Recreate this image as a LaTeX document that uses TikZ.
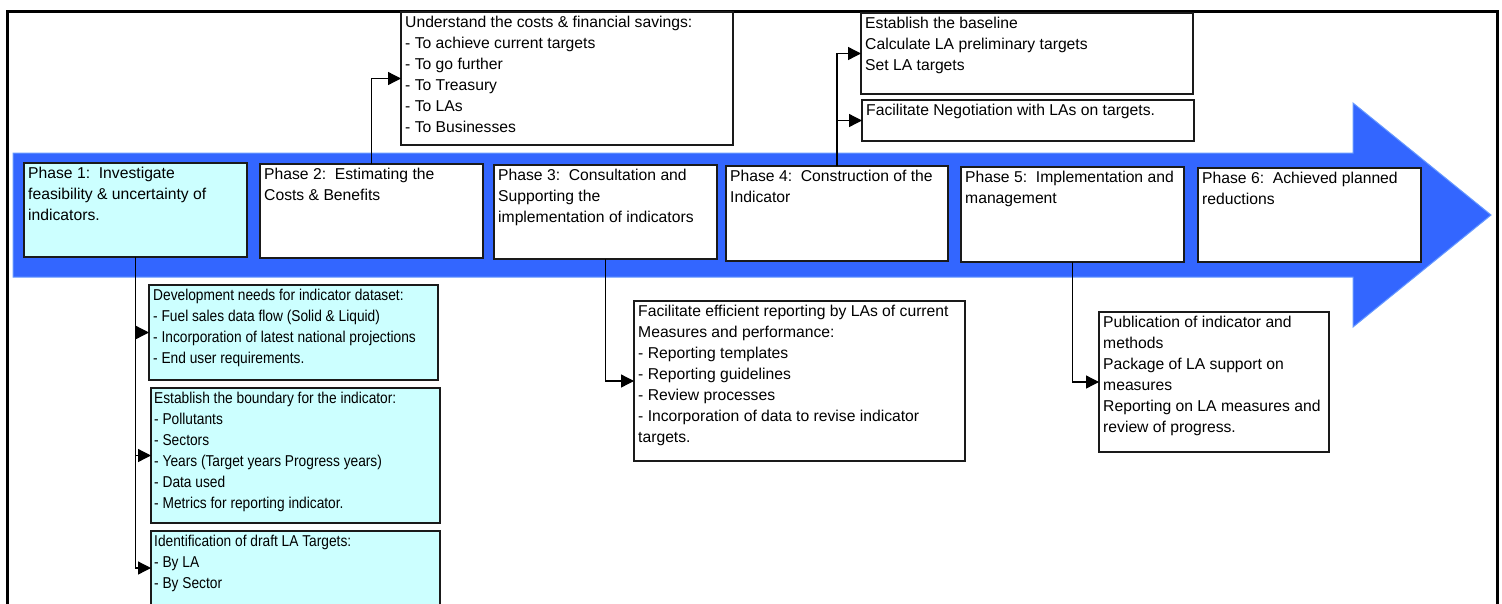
\documentclass[tikz,border=0pt]{standalone}
\usepackage{fontspec}
\setmainfont{Liberation Sans}
\newfontfamily\condfont[FakeStretch=0.875]{Liberation Sans}
\usetikzlibrary{arrows.meta}
\definecolor{arrowblue}{HTML}{3366FF}
\definecolor{arrowedge}{HTML}{6699FF}
\definecolor{lightcyan}{HTML}{CCFFFF}
\definecolor{boxline}{HTML}{1A1A1A}
\begin{document}
\begin{tikzpicture}[x=1pt,y=-1pt,
  box/.style={draw=boxline,line width=1.2pt,rectangle,inner sep=0pt,outer sep=0pt,anchor=north west},
  cyanbox/.style={box,fill=lightcyan},
  whitebox/.style={box,fill=white},
  txt/.style={anchor=north west,inner sep=0pt,align=left,font=\fontsize{15.7}{21}\selectfont},
  ctxt/.style={anchor=north west,inner sep=0pt,align=left,font=\condfont\fontsize{15.7}{21}\selectfont},
  arr/.style={draw=black,line width=1.3pt,-{Triangle[length=13pt,width=13pt]}},
  conn/.style={draw=black,line width=1.3pt}
]
\useasboundingbox (0,0) rectangle (1502,603);
\clip (0,0) rectangle (1502,603);
\fill[white] (0,0) rectangle (1502,603);
% outer frame
\draw[line width=3pt] (7,640) -- (7,11) -- (1497,11) -- (1497,640);
% blue arrow
\draw[fill=arrowblue,draw=arrowedge,line width=1pt] (13,153) -- (1353,153) -- (1353,103) -- (1491,215) -- (1353,327) -- (1353,277) -- (13,277) -- cycle;
% phase boxes
\node[cyanbox,minimum width=223pt,minimum height=94pt] (p1) at (24,163) {};
\node[txt] (p1t) at (28,166.5) {Phase 1:\ \ Investigate\\feasibility \& uncertainty of\\indicators.};
\node[whitebox,minimum width=223pt,minimum height=94pt] (p2) at (260,164) {};
\node[txt] (p2t) at (264,167.5) {Phase 2:\ \ Estimating the\\Costs \& Benefits};
\node[whitebox,minimum width=223pt,minimum height=94pt] (p3) at (494,165) {};
\node[txt] (p3t) at (498,168.5) {Phase 3:\ \ Consultation and\\Supporting the\\implementation of indicators};
\node[whitebox,minimum width=222pt,minimum height=95pt] (p4) at (726,166) {};
\node[txt] (p4t) at (730,169.5) {Phase 4:\ \ Construction of the\\Indicator};
\node[whitebox,minimum width=223pt,minimum height=95pt] (p5) at (961,167) {};
\node[txt] (p5t) at (965,170.5) {Phase 5:\ \ Implementation and\\management};
\node[whitebox,minimum width=223pt,minimum height=94pt] (p6) at (1198,168) {};
\node[txt] (p6t) at (1202,171.5) {Phase 6:\ \ Achieved planned\\reductions};
% top boxes
\node[whitebox,minimum width=332pt,minimum height=133pt] (cost) at (401,12) {};
\node[txt] (costt) at (405,15.5) {Understand the costs \& financial savings:\\- To achieve current targets\\- To go further\\- To Treasury\\- To LAs\\- To Businesses};
\node[whitebox,minimum width=332pt,minimum height=81pt] (base) at (861,13) {};
\node[txt] (baset) at (865,16.5) {Establish the baseline\\Calculate LA preliminary targets\\Set LA targets};
\node[whitebox,minimum width=332pt,minimum height=41pt] (nego) at (862,100) {};
\node[txt] (negot) at (866,103.5) {Facilitate Negotiation with LAs on targets.};
% lower boxes
\node[cyanbox,minimum width=289pt,minimum height=95pt] (dev) at (149,285) {};
\node[ctxt] (devt) at (153,288.5) {Development needs for indicator dataset:\\- Fuel sales data flow (Solid \& Liquid)\\- Incorporation of latest national projections\\- End user requirements.};
\node[cyanbox,minimum width=289pt,minimum height=135pt] (bound) at (151,388) {};
\node[ctxt] (boundt) at (154,391.5) {Establish the boundary for the indicator:\\- Pollutants\\- Sectors\\- Years (Target years Progress years)\\- Data used\\- Metrics for reporting indicator.};
\node[cyanbox,minimum width=289pt,minimum height=74pt] (draft) at (151,531) {};
\node[ctxt] (draftt) at (154,534.5) {Identification of draft LA Targets:\\- By LA\\- By Sector};
\node[whitebox,minimum width=331pt,minimum height=160pt] (rep) at (634,301) {};
\node[txt] (rept) at (638,304.5) {Facilitate efficient reporting by LAs of current\\Measures and performance:\\- Reporting templates\\- Reporting guidelines\\- Review processes\\- Incorporation of data to revise indicator\\targets.};
\node[whitebox,minimum width=230pt,minimum height=140pt] (pub) at (1099,312) {};
\node[txt] (pubt) at (1103,315.5) {Publication of indicator and\\methods\\Package of LA support on\\measures\\Reporting on LA measures and\\review of progress.};
% connectors
\draw[arr] (p2.north) |- (cost.west);
\draw[arr] (p4.north) |- (base.west);
\draw[arr] (p4.north) |- (nego.west);
\draw[arr] (p1.south) |- (dev.west);
\draw[arr] (p1.south) |- (bound.west);
\draw[arr] (p1.south) |- (draft.west);
\draw[arr] (p3.south) |- (rep.west);
\draw[arr] (p5.south) |- (pub.west);
\end{tikzpicture}
\end{document}
